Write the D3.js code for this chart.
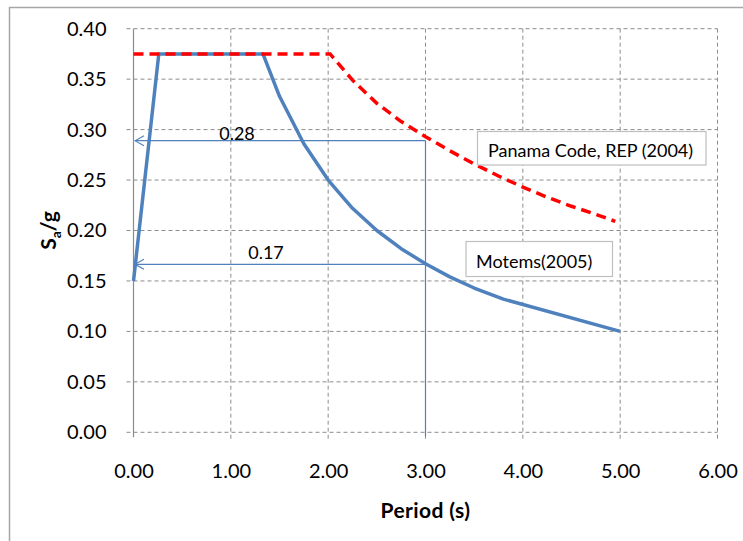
<!DOCTYPE html>
<html><head><meta charset="utf-8">
<script src="https://cdn.jsdelivr.net/npm/d3@7/dist/d3.min.js"></script>
<style>body{margin:0;background:#fff;} svg{display:block;font-family:Lato,"Open Sans",sans-serif;}</style>
</head><body>
<svg id="c" width="743" height="541"></svg>
<script>
const xTicks = [0,1,2,3,4,5,6];
const yTicks = [0,0.05,0.10,0.15,0.20,0.25,0.30,0.35,0.40];
const motemsT  = [0,0.26,1.33,1.5,1.75,2.0,2.25,2.5,2.75,3.0,3.25,3.5,3.8,5.0];
const motemsSa = [0.15,0.375,0.375,0.333,0.286,0.25,0.222,0.2,0.182,0.167,0.154,0.143,0.132,0.10];
const panamaT  = [0,2.02,2.25,2.5,2.75,3.0,3.25,3.5,3.75,4.0,4.25,4.5,4.75,4.95];
const panamaSa = [0.375,0.375,0.349,0.326,0.308,0.293,0.279,0.266,0.254,0.243,0.233,0.224,0.216,0.209];
const arrowT = [3.0,3.0];
const arrowSa = [0.289,0.1665];
const arrowLabels = ["0.28","0.17"];
const labelTexts = ["Panama Code, REP (2004)","Motems(2005)"];

const svg = d3.select("#c");
const x = d3.scaleLinear().domain([0,6]).range([133.5,717.5]);
const y = d3.scaleLinear().domain([0,0.4]).range([432.3,28.7]);

// outer frame
svg.append("rect").attr("x",9.5).attr("y",7.5).attr("width",760).attr("height",560)
  .attr("fill","none").attr("stroke","#a6a6a6").attr("stroke-width",1.5);

// horizontal gridlines
svg.append("g").selectAll("line").data(yTicks).join("line")
  .attr("x1",x(0)-7).attr("x2",x(6)).attr("y1",d=>y(d)).attr("y2",d=>y(d))
  .attr("stroke","#8c8c8c").attr("stroke-width",1).attr("stroke-dasharray","4,3");
// vertical gridlines
svg.append("g").selectAll("line").data(xTicks.slice(1)).join("line")
  .attr("x1",d=>x(d)).attr("x2",d=>x(d)).attr("y1",y(0.4)).attr("y2",y(0)+7)
  .attr("stroke","#8c8c8c").attr("stroke-width",1).attr("stroke-dasharray","4,3");
// y axis solid line
svg.append("line").attr("x1",x(0)).attr("x2",x(0)).attr("y1",y(0.4)).attr("y2",y(0)+5)
  .attr("stroke","#8c8c8c").attr("stroke-width",1.2);

// axes labels via d3 axes
const yAx = svg.append("g").attr("transform",`translate(${x(0)-24},0)`)
  .call(d3.axisLeft(y).tickValues(yTicks).tickFormat(d3.format(".2f")).tickSize(0));
yAx.select(".domain").remove();
yAx.selectAll("text").attr("font-size",20).attr("fill","#000").attr("font-family","Lato,sans-serif");
const xAx = svg.append("g").attr("transform",`translate(0,${y(0)+28})`)
  .call(d3.axisBottom(x).tickValues(xTicks).tickFormat(d3.format(".2f")).tickSize(0));
xAx.select(".domain").remove();
xAx.selectAll("text").attr("font-size",20).attr("fill","#000").attr("font-family","Lato,sans-serif");

// axis titles
svg.append("text").attr("x",(x(0)+x(6))/2).attr("y",518).attr("text-anchor","middle")
  .attr("font-size",21).attr("letter-spacing",0.4).attr("font-weight","bold").text("Period (s)");
const yt = svg.append("text").attr("transform",`translate(56,${(y(0)+y(0.4))/2}) rotate(-90)`)
  .attr("text-anchor","middle").attr("font-size",21).attr("font-weight","bold");
yt.append("tspan").text("S");
yt.append("tspan").attr("font-size",14).attr("dy",5).text("a");
yt.append("tspan").attr("dy",-5).text("/g");

// arrows
const blue = "#4f81bd";
const defs = svg.append("defs");
defs.append("marker").attr("id","ah").attr("viewBox","-11 -6 12 12").attr("refX",0).attr("refY",0)
  .attr("markerWidth",12).attr("markerHeight",12).attr("markerUnits","userSpaceOnUse").attr("orient","auto")
  .append("path").attr("d","M-9,-5 L0,0 L-9,5").attr("fill","none").attr("stroke",blue).attr("stroke-width",1.1);
svg.append("line").attr("x1",x(arrowT[0])).attr("x2",x(arrowT[0])).attr("y1",y(0)+4).attr("y2",y(arrowSa[0]))
  .attr("stroke",blue).attr("stroke-width",1.2);
arrowSa.forEach((s,i)=>{
  svg.append("line").attr("x1",x(arrowT[i])).attr("x2",x(0)+1.5).attr("y1",y(s)).attr("y2",y(s))
    .attr("stroke",blue).attr("stroke-width",1.2).attr("marker-end","url(#ah)");
});
svg.append("text").attr("x",237).attr("y",y(arrowSa[0])-1).attr("text-anchor","middle")
  .attr("font-size",18).text(arrowLabels[0]);
svg.append("text").attr("x",266).attr("y",y(arrowSa[1])-5).attr("text-anchor","middle")
  .attr("font-size",18).text(arrowLabels[1]);

// series
const line = d3.line().x(d=>x(d[0])).y(d=>y(d[1]));
svg.append("path").datum(motemsT.map((t,i)=>[t,motemsSa[i]])).attr("d",line)
  .attr("fill","none").attr("stroke",blue).attr("stroke-width",3.5).attr("stroke-linejoin","round");
svg.append("path").datum(panamaT.map((t,i)=>[t,panamaSa[i]])).attr("d",line)
  .attr("fill","none").attr("stroke","#ff0000").attr("stroke-width",3.5).attr("stroke-dasharray","10,6");

// label boxes
const boxes = [{x0:477.5,y0:131.5,w:228.5,h:33.5,tx:488,ty:157},{x0:466,y0:241.5,w:146.5,h:35,tx:476,ty:268}];
boxes.forEach((b,i)=>{
  svg.append("rect").attr("x",b.x0).attr("y",b.y0).attr("width",b.w).attr("height",b.h)
    .attr("fill","#fff").attr("stroke","#bfbfbf").attr("stroke-width",1.2);
  svg.append("text").attr("x",b.tx).attr("y",b.ty).attr("font-size",18).text(labelTexts[i]);
});
</script>
</body></html>
